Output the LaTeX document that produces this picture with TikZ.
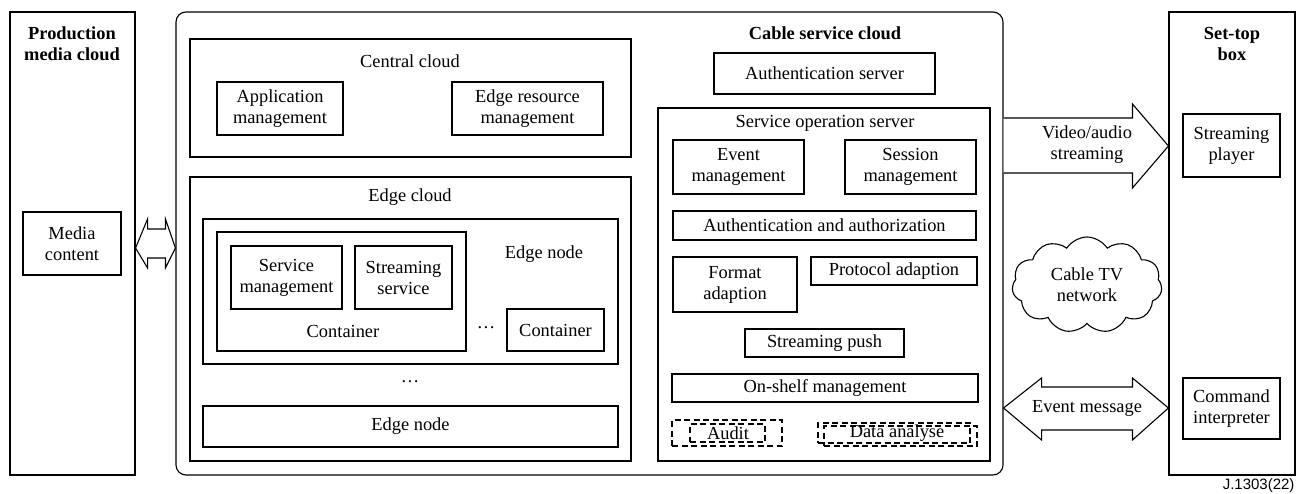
\documentclass[tikz,border=0pt]{standalone}
\usepackage{fontspec}
\setmainfont{Liberation Serif}
\newfontfamily\sansf{Liberation Sans}
\usetikzlibrary{shapes.symbols,fit,calc}
% \mybox[style]{name}{x1}{y1}{x2}{y2}{text}
\newcommand\mybox[7][box]{%
  \node[#1,fit={(#3,#4) (#5,#6)}] (#2) {};
  \node[lbl] (#2-t) at (#2.center) {#7};}
\newcommand\mydots{\raisebox{4pt}{…}}
\begin{document}
\begin{tikzpicture}[x=1pt,y=-1pt,line width=1.1pt,
  font=\fontsize{18.4}{21}\selectfont,
  box/.style={draw,inner sep=0pt},
  dbox/.style={draw,dash pattern=on 6pt off 3.5pt,inner sep=0pt},
  lbl/.style={inner sep=0pt,align=center},
  ttl/.style={inner sep=0pt,align=center,font=\fontsize{18.4}{21}\selectfont\bfseries},
  blockarrow/.style={draw,line join=miter,fill=white}]
\useasboundingbox (0,0) rectangle (1300,493);

% Production media cloud
\node[box,fit={(10,12) (135,475)}] (prod) {};
\node[ttl] (prodt) at (72,44) {Production\\media cloud};
\mybox{media}{23}{212}{121}{275}{Media\\content}

% Cable service cloud
\node[box,rounded corners=10pt,fit={(176,12) (1003,475)}] (csc) {};
\node[ttl] (csct) at (825,33) {Cable service cloud};

% Central cloud
\node[box,fit={(190,39) (631,157)}] (central) {};
\node[lbl] (centralt) at (410,61) {Central cloud};
\mybox{app}{217}{82}{343}{135}{Application\\management}
\mybox{erm}{452}{82}{603}{135}{Edge resource\\management}

% Edge cloud
\node[box,fit={(190,177) (631,461)}] (edge) {};
\node[lbl] (edget) at (410,197) {Edge cloud};
\node[box,fit={(203,219) (618,364)}] (en1) {};
\node[lbl] (en1t) at (544,254) {Edge node};
\node[box,fit={(217,232) (466,351)}] (cont1) {};
\node[lbl] (cont1t) at (343,331) {Container};
\mybox{sm}{231}{246}{342}{309}{Service\\management}
\mybox{ss}{355}{246}{452}{309}{Streaming\\service}
\node[lbl] (dots1) at (486,330) {\mydots};
\mybox{cont2}{507}{309}{604}{351}{Container}
\node[lbl] (dots2) at (410,384) {\mydots};
\mybox{en2}{203}{406}{618}{447}{Edge node}

% Cable service cloud right part
\mybox{auth}{714}{53}{935}{94}{Authentication server}
\node[box,fit={(658,108) (990,461)}] (sos) {};
\node[lbl] (sost) at (825,123) {Service operation server};
\mybox{evm}{673}{140}{804}{194}{Event\\management}
\mybox{sesm}{845}{140}{976}{194}{Session\\management}
\mybox{authz}{673}{211}{976}{240}{Authentication and authorization}
\mybox{fmt}{673}{257}{797}{312}{Format\\adaption}
\mybox{proto}{811}{257}{977}{285}{Protocol adaption}
\mybox{push}{745}{329}{904}{357}{Streaming push}
\mybox{onshelf}{672}{374}{978}{402}{On-shelf management}
\node[dbox,fit={(672,420) (782,446)}] (audito) {};
\node[dbox,fit={(690,424) (765,442)}] (auditi) {};
\node[lbl] (auditt) at (728,433) {Audit};
\node[dbox,fit={(818,423) (970,443)}] (dataa) {};
\node[dbox,fit={(824,426) (977,446)}] (datab) {};
\node[lbl] (datat) at (897,433) {Data analyse};

% Set-top box
\node[box,fit={(1169,12) (1295,475)}] (stb) {};
\node[ttl] (stbt) at (1232,44) {Set-top\\box};
\mybox{player}{1183}{114}{1280}{177}{Streaming\\player}
\mybox{cmd}{1183}{378}{1280}{439}{Command\\interpreter}

% Cloud
\node[cloud,draw,cloud puffs=11,cloud puff arc=115,aspect=1.6,
  minimum width=150pt,minimum height=96pt,inner sep=0pt,align=center]
  (cable) at (1087,285) {Cable TV\\network};

% Block arrows
\coordinate (la) at (prod.east |- 0,248);
\coordinate (lb) at (csc.west |- 0,248);
\draw[blockarrow] (la) -- ($(la)+(12,-29)$) -- ($(la)+(12,-19)$) -- ($(lb)+(-10,-19)$)
  -- ($(lb)+(-10,-29)$) -- (lb) -- ($(lb)+(-10,20)$) -- ($(lb)+(-10,10)$)
  -- ($(la)+(12,10)$) -- ($(la)+(12,20)$) -- cycle;

\coordinate (va) at (csc.east |- 0,146);
\coordinate (vb) at (stb.west |- 0,146);
\draw[blockarrow] (va) ++(0,-28) -- ($(vb)+(-36,-28)$) -- ($(vb)+(-36,-42)$) -- (vb)
  -- ($(vb)+(-36,42)$) -- ($(vb)+(-36,27)$) -- ($(va)+(0,27)$);
\node[lbl] (vat) at (1087,145) {Video/audio\\streaming};

\coordinate (ea) at (csc.east |- 0,408);
\coordinate (eb) at (stb.west |- 0,408);
\draw[blockarrow] (ea) -- ($(ea)+(38,-30)$) -- ($(ea)+(38,-21)$) -- ($(eb)+(-36,-21)$)
  -- ($(eb)+(-36,-30)$) -- (eb) -- ($(eb)+(-36,32)$) -- ($(eb)+(-36,22)$)
  -- ($(ea)+(38,22)$) -- ($(ea)+(38,32)$) -- cycle;
\node[lbl] (eat) at (1087,408) {Event message};

\node[inner sep=0pt,anchor=east,font=\sansf\fontsize{15}{17}\selectfont] (fig) at (1295,486) {J.1303(22)};
\end{tikzpicture}
\end{document}
